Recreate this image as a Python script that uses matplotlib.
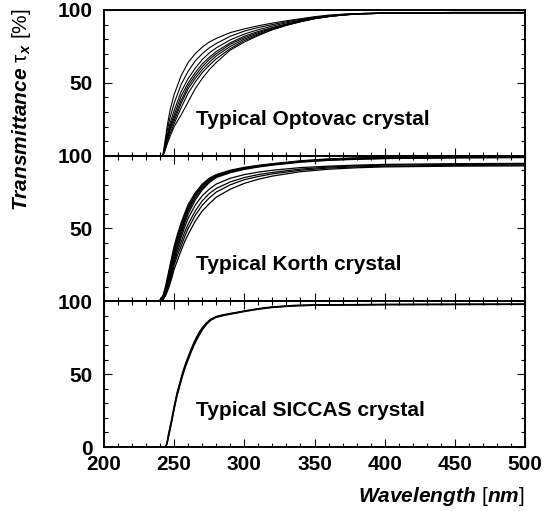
import numpy as np
import matplotlib
matplotlib.use('Agg')
import matplotlib.pyplot as plt
from matplotlib.ticker import MultipleLocator

plt.rcParams['font.family'] = 'Liberation Sans'
plt.rcParams['font.weight'] = 'bold'
plt.rcParams['mathtext.fontset'] = 'custom'
plt.rcParams['mathtext.rm'] = 'Liberation Sans:style=normal:weight=normal'
plt.rcParams['mathtext.it'] = 'Liberation Sans:style=italic:weight=bold'
plt.rcParams['mathtext.bf'] = 'Liberation Sans:weight=bold'

## Optovac crystals (transmittance in %)
wl_opt = [200, 242, 243.5, 245, 247, 250, 255, 260, 265, 270, 275, 280, 290, 300, 310, 320, 330, 340, 350, 360, 370, 380, 400, 450, 500]
optovac = [
    [0, 0, 10, 20, 31, 42, 55, 64, 70, 74.5, 78, 80.5, 84.5, 87, 89.2, 91, 92.6, 94, 95.4, 96.5, 97.1, 97.5, 98, 98.3, 98.3],
    [0, 0, 8, 17, 26, 36, 49, 58, 65, 70, 74, 77, 82, 85.5, 88, 90, 91.9, 93.5, 94.9, 96, 96.9, 97.5, 98, 98.3, 98.3],
    [0, 0, 7, 14, 22, 31, 44, 53, 60, 66, 70.5, 74, 79.5, 83.5, 86.5, 89, 91.2, 93, 94.6, 96, 96.9, 97.5, 98, 98.3, 98.3],
    [0, 0, 6, 13, 20, 28, 41, 50, 57, 63, 67.5, 71.5, 77.5, 82, 85.3, 88, 90.4, 92.5, 94.2, 95.5, 96.6, 97.3, 97.8, 98.2, 98.2],
    [0, 0, 5.5, 12, 18.5, 26, 38, 48, 55, 61, 66, 70, 76.5, 81, 84.5, 87.5, 90.2, 92.5, 94.2, 95.5, 96.6, 97.3, 97.8, 98.2, 98.2],
    [0, 0, 5, 11, 17, 24, 36, 46, 53, 59, 64, 68.5, 75, 80, 83.7, 87, 89.8, 92, 94, 95.5, 96.5, 97.2, 97.8, 98, 98],
    [0, 0, 4, 9, 15, 22, 33, 43, 50.5, 57, 62, 66.5, 73.5, 79, 83, 86.5, 89.5, 92, 94, 95.5, 96.5, 97.2, 97.8, 98, 98],
    [0, 0, 3.5, 8, 13, 20, 28, 37, 46, 53, 59, 64, 72.5, 78, 82.5, 86.5, 89.5, 92, 94.2, 96, 96.8, 97.3, 97.8, 98, 98],
]

## Korth crystals
wl_kor = [200, 238, 240, 242, 244, 246, 248, 250, 252.5, 255, 257.5, 260, 265, 270, 275, 280, 290, 300, 310, 320, 340, 360, 380, 400, 450, 500]
korth = [
    [0, 0, 1, 4, 11, 20, 29, 38, 46.5, 54, 60.5, 66.5, 74.5, 80.5, 84.5, 87, 90, 92, 93.4, 94.5, 96.5, 97.8, 98.5, 98.8, 99.2, 99.3],
    [0, 0, 0.5, 3, 9, 18, 27, 36, 44.5, 52, 59, 65, 73.5, 79.5, 83.7, 86.5, 89.5, 91.5, 93, 94.2, 96.2, 97.5, 98.2, 98.6, 99, 99.2],
    [0, 0, 0.5, 2.5, 8, 16, 25, 34, 42.5, 50, 57, 63.5, 72.5, 78.5, 83, 86, 89, 91.2, 92.8, 94, 96, 97.3, 98, 98.4, 98.8, 99],
    [0, 0, 0.3, 2, 7, 15, 23, 32, 40.5, 48, 55.5, 62, 71, 77.5, 82.2, 85.5, 88.7, 91, 92.5, 93.8, 95.8, 97, 97.7, 98.1, 98.6, 98.8],
    [0, 0, 0.3, 2, 6, 13, 21, 30, 38.5, 46, 53.5, 60, 69.5, 76.5, 81.5, 85, 88.3, 90.6, 92.2, 93.5, 95.5, 96.8, 97.5, 98, 98.5, 98.7],
    [0, 0, 0.3, 2, 6, 13, 21, 29, 37, 44, 51, 57, 66, 72.5, 77, 80.5, 84.5, 87, 88.7, 90, 91.8, 92.8, 93.5, 94, 94.5, 94.7],
    [0, 0, 0.2, 1.5, 5, 11, 19, 27, 34.5, 41, 47.5, 53, 62, 69, 74, 77.5, 82, 85, 87, 88.5, 90.8, 92.2, 93, 93.5, 94, 94.2],
    [0, 0, 0.2, 1.5, 5, 10, 17, 25, 32, 38, 44.5, 50, 59, 66, 71, 75, 80, 83.5, 85.7, 87.5, 90, 91.5, 92.3, 92.8, 93.3, 93.5],
    [0, 0, 0.2, 1, 4, 9, 15, 22, 28.5, 35, 41, 46, 55, 62, 67, 71.5, 77, 81, 83.8, 86, 89, 90.7, 91.7, 92.3, 92.8, 93],
]

## SICCAS crystals
wl_sic = [200, 244, 245, 246, 248, 250, 252, 254, 256, 258, 260, 262, 264, 266, 268, 270, 273, 276, 280, 285, 290, 295, 300, 310, 320, 335, 350, 400, 450, 500]
siccas = [
    [0, 0, 3, 8, 17, 27, 36, 43, 50, 56, 61, 66, 70.5, 74.5, 78, 81, 84.7, 87.3, 89.3, 90.5, 91.4, 92.3, 93.2, 94.8, 96, 97, 97.4, 97.8, 97.9, 98],
    [0, 0, 2.5, 7, 16, 26, 35, 42, 49, 55, 60, 65, 69.5, 73.5, 77, 80.3, 84.2, 87, 89, 90.2, 91.2, 92.1, 93, 94.6, 95.8, 96.8, 97.3, 97.7, 97.8, 97.9],
    [0, 0, 3.5, 9, 18, 28, 37, 44, 51, 57, 62, 67, 71.5, 75.5, 79, 81.8, 85.2, 87.7, 89.6, 90.8, 91.7, 92.5, 93.4, 95, 96.2, 97.2, 97.6, 97.9, 98, 98.1],
]

panels = [(wl_opt, optovac, 'Typical Optovac crystal', 0.8),
          (wl_kor, korth, 'Typical Korth crystal', 0.9),
          (wl_sic, siccas, 'Typical SICCAS crystal', 1.0)]

fig = plt.figure(figsize=(5.56, 5.11), dpi=100)
W, H = 556.0, 511.0
left, right = 104 / W, 525 / W
y_top, y_bot = 10.0, 447.0
ph = (y_bot - y_top) / 3

for i, (wl, curves, label, lw) in enumerate(panels):
    bottom = 1 - (y_top + (i + 1) * ph) / H
    ax = fig.add_axes([left, bottom, right - left, ph / H])
    for c in curves:
        ax.plot(wl, c, color='black', lw=lw)
    ax.set_xlim(200, 500)
    ax.set_ylim(0, 100)
    ax.text(265.8, 25, label, fontsize=15, fontweight='bold', ha='left', va='center')
    ax.xaxis.set_major_locator(MultipleLocator(50))
    ax.xaxis.set_minor_locator(MultipleLocator(10))
    ax.yaxis.set_major_locator(MultipleLocator(50))
    ax.yaxis.set_minor_locator(MultipleLocator(10))
    ax.tick_params(which='both', direction='in', right=True, top=(i > 0),
                   width=0.8, labelsize=15, pad=8)
    ax.tick_params(axis='x', pad=6)
    ax.tick_params(which='major', length=6)
    ax.tick_params(which='minor', length=3)
    for s in ax.spines.values():
        s.set_linewidth(1.4)
    if i < 2:
        ax.set_xticklabels([])
        ax.set_yticks([50, 100])
    else:
        ax.set_yticks([0, 50, 100])
    for t in ax.get_xticklabels() + ax.get_yticklabels():
        t.set_fontweight('bold')

fig.text(22 / W, 1 - 110 / H, r'$Transmittance\ \mathrm{\tau}_{x}\ \mathrm{[\%]}$',
         rotation=90, ha='center', va='center', fontsize=15)
fig.text(525 / W, 1 - 496 / H, r'$Wavelength\ \mathrm{[}nm\mathrm{]}$',
         ha='right', va='center', fontsize=15)

fig.savefig('out.png', dpi=100)
